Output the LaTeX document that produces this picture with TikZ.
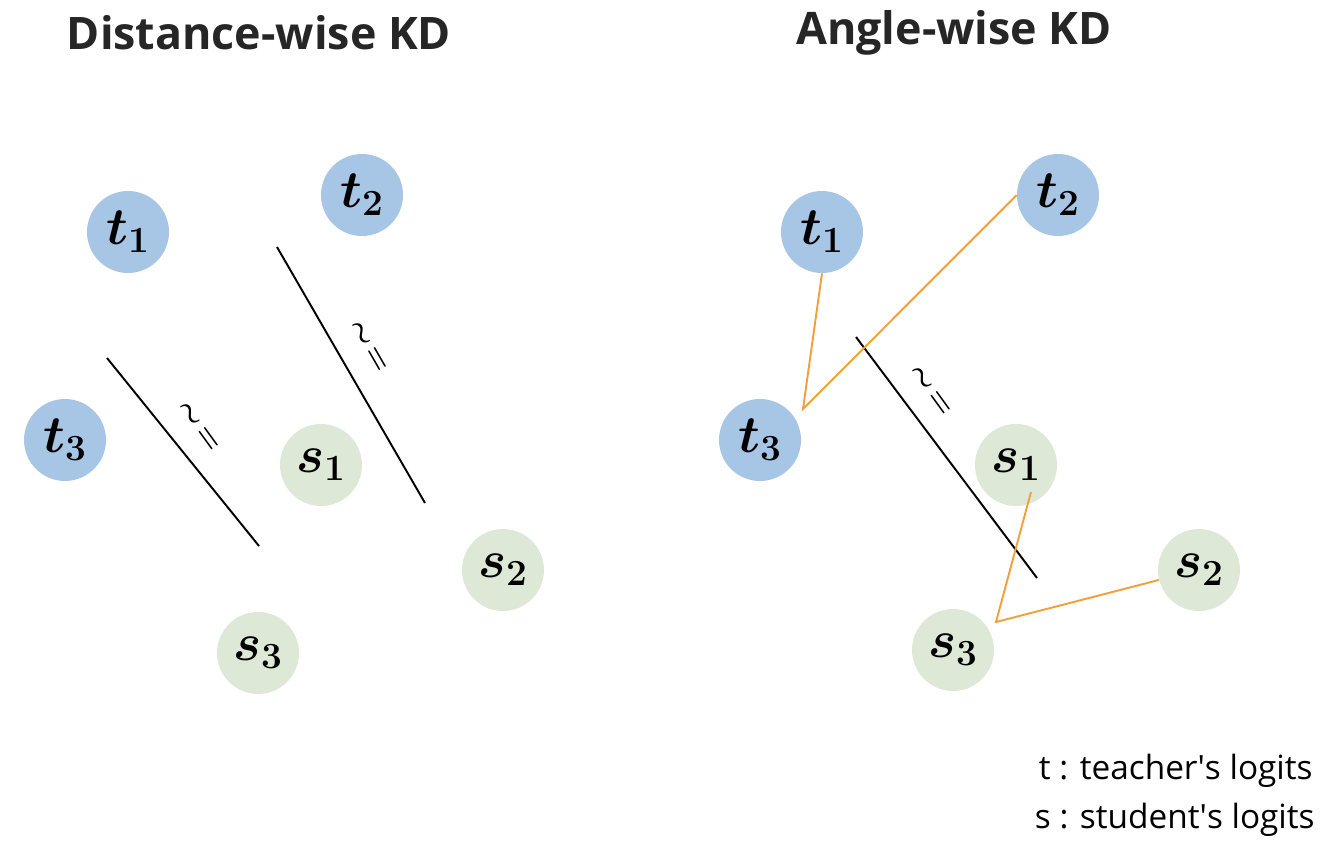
\RequirePackage{fix-cm}
\documentclass[tikz,border=0pt]{standalone}
\usepackage{fontspec}
\setmainfont{Open Sans}
\definecolor{tblue}{HTML}{A7C5E5}
\definecolor{sgreen}{HTML}{DDE9D6}
\definecolor{lorange}{HTML}{F2A03D}
\definecolor{ink}{HTML}{262626}
\begin{document}
\begin{tikzpicture}[
    x=0.02cm, y=-0.02cm,
    tnode/.style={circle, fill=tblue, minimum size=1.64cm, inner sep=0pt, font=\fontsize{30}{34}\selectfont\boldmath},
    snode/.style={circle, fill=sgreen, minimum size=1.64cm, inner sep=0pt, font=\fontsize{30}{34}\selectfont\boldmath},
    bar/.style={black, line width=1.1pt},
    link/.style={lorange, line width=1.1pt},
    sym/.style={font=\fontsize{17}{19}\selectfont\boldmath, inner sep=0pt},
    title/.style={font=\fontsize{25.5}{30}\selectfont\bfseries, text=ink},
    lbl/.style={font=\fontsize{19}{22}\selectfont, anchor=east, inner sep=0pt},
  ]
    \useasboundingbox (0,0) rectangle (1336,848);

    % titles
    \node[title] (dtitle) at (259,33) {Distance-wise KD};
    \node[title] (atitle) at (954,33) {Angle-wise KD};

    % distance-wise
    \node[tnode] (dt1) at (128,232) {$t_1$};
    \node[tnode] (dt2) at (362,195) {$t_2$};
    \node[tnode] (dt3) at (65,440) {$t_3$};
    \node[snode] (ds1) at (321,465) {$s_1$};
    \node[snode] (ds2) at (503,570) {$s_2$};
    \node[snode] (ds3) at (258,653) {$s_3$};
    \coordinate (da1) at (107,358);
    \coordinate (da2) at (259,546);
    \coordinate (db1) at (277,247);
    \coordinate (db2) at (425,503);
    \draw[bar] (da1) -- (da2);
    \draw[bar] (db1) -- (db2);
    \node[sym, rotate=-54] (dsa) at (198,427) {$\sim\mkern2mu=$};
    \node[sym, rotate=-60] (dsb) at (368,347) {$\sim\mkern2mu=$};

    % angle-wise
    \node[tnode] (at1) at (822,232) {$t_1$};
    \node[tnode] (at2) at (1058,195) {$t_2$};
    \node[tnode] (at3) at (760,440) {$t_3$};
    \node[snode] (as1) at (1016,465) {$s_1$};
    \node[snode] (as2) at (1199,570) {$s_2$};
    \node[snode] (as3) at (953,650) {$s_3$};
    \coordinate (ac1) at (856,337);
    \coordinate (ac2) at (1037,578);
    \draw[bar] (ac1) -- (ac2);
    \node[sym, rotate=-54] (asc) at (930,391) {$\sim\mkern2mu=$};
    \coordinate (tapex) at (803,409);
    \coordinate (sapex) at (996,622);
    \coordinate (s1foot) at (1031,492);
    \draw[link] (at1.south) -- (tapex) -- (at2.west);
    \draw[link] (s1foot) -- (sapex) -- (as2.194);

    % legend
    \node[lbl] (lt) at (1313,771) {t : teacher\textquotesingle s logits};
    \node[lbl] (ls) at (1315,820) {s : student\textquotesingle s logits};
  \end{tikzpicture}
\end{document}
